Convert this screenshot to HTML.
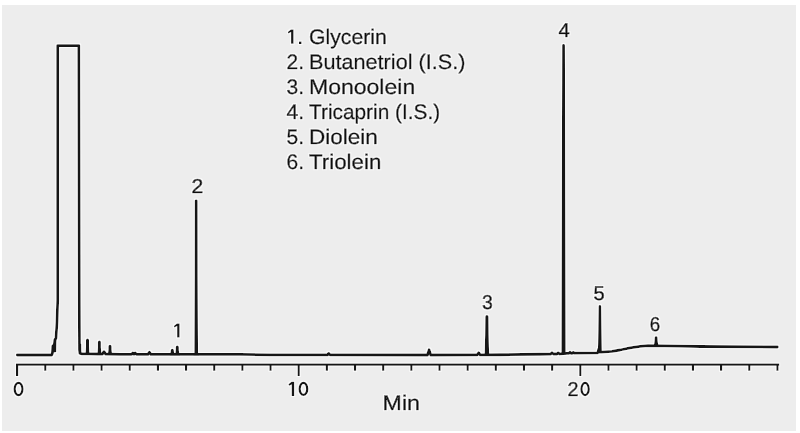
<!DOCTYPE html>
<html><head><meta charset="utf-8"><style>
html,body{margin:0;padding:0;background:#fff;}
svg{display:block;}
.g{fill:#181818;}
.lb text{stroke-width:0.65px;}
text{text-rendering:geometricPrecision;font-family:"Liberation Sans",sans-serif;fill:#111111;stroke:#111111;stroke-width:0.55px;}
</style></head><body>
<svg width="800" height="433" viewBox="0 0 800 433">
<rect x="0" y="0" width="800" height="433" fill="#ffffff"/>
<rect x="2" y="5" width="794" height="426" fill="#ededed"/>
<defs><filter id="halo" x="-5%" y="-5%" width="110%" height="110%"><feMorphology operator="dilate" radius="1.3" in="SourceAlpha" result="dl"/><feFlood flood-color="#ffffff" flood-opacity="0.75"/><feComposite in2="dl" operator="in" result="hw"/><feGaussianBlur in="hw" stdDeviation="0.4" result="hb"/><feMerge><feMergeNode in="hb"/><feMergeNode in="SourceGraphic"/></feMerge></filter></defs>
<g filter="url(#halo)">
<path d="M17.30,355.00 L51.60,355.00 L52.40,353.40 L52.80,346.00 L54.30,344.80 L54.80,340.00 L56.00,338.00 L57.00,322.00 L57.70,300.00 L57.70,45.60 L78.80,45.60 L79.30,300.00 L79.50,350.00 L79.90,353.40 L82.00,353.75 L85.80,353.80 L89.50,353.85 L97.50,354.00 L102.50,354.00 L104.00,351.60 L105.50,354.00 L120.00,354.35 L131.50,354.35 L132.80,353.00 L134.00,354.20 L135.20,353.00 L136.50,354.35 L147.90,354.35 L149.40,352.20 L150.90,354.35 L240.00,354.40 L270.00,354.90 L327.50,354.90 L328.70,353.40 L330.00,354.90 L427.50,355.00 L429.10,349.80 L430.70,355.00 L477.30,354.80 L478.70,352.80 L480.20,354.80 L500.00,354.75 L540.00,354.25 L550.50,354.10 L552.00,352.80 L553.50,354.00 L557.00,354.00 L558.20,352.90 L559.50,354.00 L560.50,353.80 L566.50,353.30 L569.00,353.30 L570.00,352.30 L571.00,353.30 L572.30,353.30 L573.30,352.40 L574.30,353.20 L597.50,352.90 L598.30,351.80 L601.50,352.10 L612.00,351.30 L620.00,350.00 L630.00,347.80 L640.00,346.30 L648.00,345.70 L665.00,345.80 L680.00,346.10 L700.00,346.50 L777.30,347.00" fill="none" stroke="#181818" stroke-width="2.8" stroke-linejoin="round" stroke-linecap="round"/>
<path class="g" d="M84.80,354.60 L85.70,352.20 L86.00,346.15 L86.00,340.00 A1.50,1.50 0 0 1 89.00,340.00 L89.00,346.15 L89.30,352.20 L90.20,354.60 Z"/>
<path class="g" d="M96.70,354.80 L97.60,352.40 L97.90,347.25 L97.90,342.00 A1.50,1.50 0 0 1 100.90,342.00 L100.90,347.25 L101.20,352.40 L102.10,354.80 Z"/>
<path class="g" d="M107.20,355.00 L108.10,352.60 L108.40,349.50 L108.40,346.40 A1.60,1.60 0 0 1 111.60,346.40 L111.60,349.50 L111.90,352.60 L112.80,355.00 Z"/>
<path class="g" d="M169.80,355.15 L170.40,352.75 L170.70,351.58 L170.70,350.40 A1.60,1.60 0 0 1 173.90,350.40 L173.90,351.58 L174.20,352.75 L174.80,355.15 Z"/>
<path class="g" d="M174.55,355.15 L175.45,352.75 L175.75,349.98 L175.75,347.15 A1.55,1.55 0 0 1 178.85,347.15 L178.85,349.98 L179.15,352.75 L180.05,355.15 Z"/>
<path class="g" d="M193.45,355.20 L194.35,352.80 L194.70,276.90 L194.80,200.80 A1.40,1.40 0 0 1 197.60,200.80 L197.70,276.90 L198.05,352.80 L198.95,355.20 Z"/>
<path class="g" d="M483.80,355.60 L484.70,353.20 L485.10,334.95 L485.30,316.70 A1.60,1.60 0 0 1 488.50,316.70 L488.70,334.95 L489.10,353.20 L490.00,355.60 Z"/>
<path class="g" d="M560.55,354.60 L561.45,352.20 L561.85,198.85 L562.15,45.30 A1.40,1.40 0 0 1 564.95,45.30 L565.25,198.85 L565.65,352.20 L566.55,354.60 Z"/>
<path class="g" d="M597.05,353.10 L597.95,350.70 L598.30,328.70 L598.60,306.40 A1.30,1.30 0 0 1 601.20,306.40 L601.50,328.70 L601.85,350.70 L602.75,353.10 Z"/>
<path class="g" d="M653.20,346.40 L654.10,344.00 L654.50,340.90 L654.70,337.60 A1.40,1.40 0 0 1 657.50,337.60 L657.70,340.90 L658.10,344.00 L659.00,346.40 Z"/>
<path d="M596.6,353 L597.3,348.5 L599.2,347.2 L599.4,352.6 Z" fill="#181818"/>
<path d="M79.2,343 L81.2,344 L81.4,352.5 L79.2,353 Z" fill="#181818"/>
<path d="M51.8,353 L52.3,345 L54,344 L54.5,338.5 L56.5,337 L56.2,352 Z" fill="#181818"/>
<g stroke="#181818" stroke-width="2.2" stroke-linecap="butt">
<line x1="16" y1="364.6" x2="779.2" y2="364.6"/>
<line x1="17.10" y1="364.6" x2="17.10" y2="376" />
<line x1="45.26" y1="364.6" x2="45.26" y2="370.8" />
<line x1="73.42" y1="364.6" x2="73.42" y2="370.8" />
<line x1="101.58" y1="364.6" x2="101.58" y2="370.8" />
<line x1="129.74" y1="364.6" x2="129.74" y2="370.8" />
<line x1="157.90" y1="364.6" x2="157.90" y2="370.8" />
<line x1="186.06" y1="364.6" x2="186.06" y2="370.8" />
<line x1="214.22" y1="364.6" x2="214.22" y2="370.8" />
<line x1="242.38" y1="364.6" x2="242.38" y2="370.8" />
<line x1="270.54" y1="364.6" x2="270.54" y2="370.8" />
<line x1="298.70" y1="364.6" x2="298.70" y2="376" />
<line x1="326.86" y1="364.6" x2="326.86" y2="370.8" />
<line x1="355.02" y1="364.6" x2="355.02" y2="370.8" />
<line x1="383.18" y1="364.6" x2="383.18" y2="370.8" />
<line x1="411.34" y1="364.6" x2="411.34" y2="370.8" />
<line x1="439.50" y1="364.6" x2="439.50" y2="370.8" />
<line x1="467.66" y1="364.6" x2="467.66" y2="370.8" />
<line x1="495.82" y1="364.6" x2="495.82" y2="370.8" />
<line x1="523.98" y1="364.6" x2="523.98" y2="370.8" />
<line x1="552.14" y1="364.6" x2="552.14" y2="370.8" />
<line x1="580.30" y1="364.6" x2="580.30" y2="376" />
<line x1="608.46" y1="364.6" x2="608.46" y2="370.8" />
<line x1="636.62" y1="364.6" x2="636.62" y2="370.8" />
<line x1="664.78" y1="364.6" x2="664.78" y2="370.8" />
<line x1="692.94" y1="364.6" x2="692.94" y2="370.8" />
<line x1="721.10" y1="364.6" x2="721.10" y2="370.8" />
<line x1="749.26" y1="364.6" x2="749.26" y2="370.8" />
<line x1="777.42" y1="364.6" x2="777.42" y2="370.8" />
</g>
<g font-size="21">
<path class="g" d="M293.55,29.50 L293.55,43.80 L291.05,43.80 L291.05,32.10 L288.40,33.50 L287.80,31.90 L290.90,29.50 Z"/>
<rect class="g" x="299.0" y="41.50" width="2.5" height="2.5"/>
<text x="309.0" y="43.80" textLength="77.8" lengthAdjust="spacingAndGlyphs">Glycerin</text>
<text x="286.6" y="68.78">2.</text>
<text x="309.0" y="68.78" textLength="156.4" lengthAdjust="spacingAndGlyphs">Butanetriol (I.S.)</text>
<text x="286.6" y="93.76">3.</text>
<text x="309.0" y="93.76" textLength="106.2" lengthAdjust="spacingAndGlyphs">Monoolein</text>
<text x="286.6" y="118.74">4.</text>
<text x="309.0" y="118.74" textLength="131.1" lengthAdjust="spacingAndGlyphs">Tricaprin (I.S.)</text>
<text x="286.6" y="143.72">5.</text>
<text x="309.0" y="143.72" textLength="68.8" lengthAdjust="spacingAndGlyphs">Diolein</text>
<text x="286.6" y="168.70">6.</text>
<text x="309.0" y="168.70" textLength="72.3" lengthAdjust="spacingAndGlyphs">Triolein</text>
<text x="382.6" y="410.2" textLength="37.4" lengthAdjust="spacingAndGlyphs">Min</text>
</g>
<g font-size="20" class="lb">
<ellipse cx="18.55" cy="389.00" rx="3.90" ry="6.05" fill="none" stroke="#181818" stroke-width="2.3"/>
<path class="g" d="M294.20,381.80 L294.20,396.10 L291.70,396.10 L291.70,384.40 L289.05,385.80 L288.45,384.20 L291.55,381.80 Z"/>
<ellipse cx="303.45" cy="388.95" rx="3.80" ry="6.00" fill="none" stroke="#181818" stroke-width="2.3"/>
<text x="567.6" y="395.8" textLength="11.0" lengthAdjust="spacingAndGlyphs">2</text>
<ellipse cx="585.10" cy="389.00" rx="3.65" ry="6.05" fill="none" stroke="#181818" stroke-width="2.3"/>
<path class="g" d="M179.60,323.50 L179.60,337.40 L177.10,337.40 L177.10,326.10 L174.45,327.50 L173.85,325.90 L176.95,323.50 Z"/>
<text x="191.6" y="193.4" textLength="11.8" lengthAdjust="spacingAndGlyphs">2</text>
<text x="482.1" y="308.7" textLength="10.8" lengthAdjust="spacingAndGlyphs">3</text>
<text x="558.6" y="36.8" textLength="11.3" lengthAdjust="spacingAndGlyphs">4</text>
<text x="593.5" y="300.1" textLength="11.2" lengthAdjust="spacingAndGlyphs">5</text>
<text x="649.8" y="331.2" textLength="10.4" lengthAdjust="spacingAndGlyphs">6</text>
</g>
</g>
</svg>
</body></html>
